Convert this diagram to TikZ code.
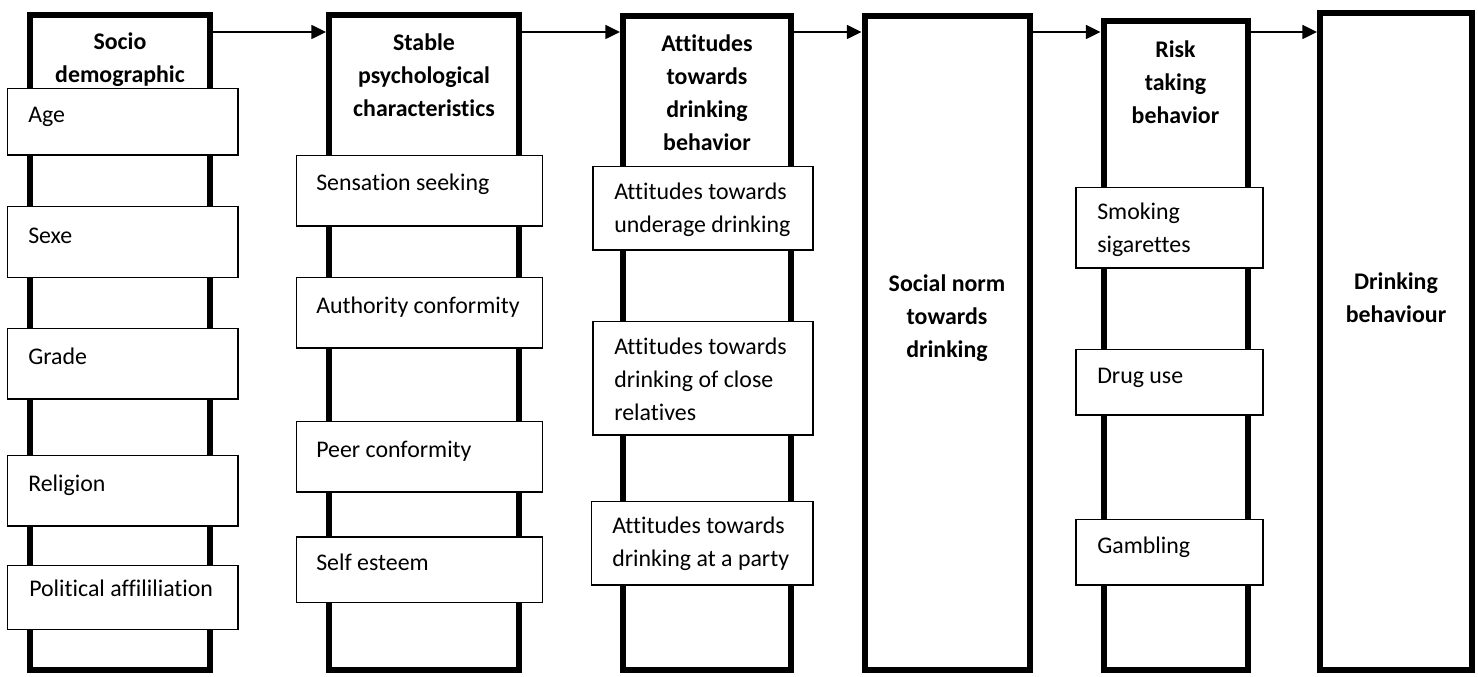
\documentclass[tikz,border=0pt]{standalone}
\usepackage{fontspec}
\setmainfont{Carlito}[Ligatures=NoCommon]
\usetikzlibrary{arrows.meta,fit}
\begin{document}
\begin{tikzpicture}[x=0.75pt,y=-0.75pt,
  frame/.style={draw, line width=4.5pt, inner sep=0pt},
  subbox/.style={draw, fill=white, line width=1.1pt, inner sep=0pt},
  frametitle/.style={font=\bfseries\fontsize{17.9pt}{24.75pt}\selectfont, align=center, anchor=base, inner sep=0pt},
  itemtext/.style={font=\fontsize{17.9pt}{24.75pt}\selectfont, align=left, anchor=base west, inner sep=0pt},
  flow/.style={line width=1.1pt, -{Triangle[length=11pt,width=10.5pt]}}]
\useasboundingbox (0,0) rectangle (1478,677);
\fill[white] (0,0) rectangle (1478,677);

% frames
\node[frame, fit={(30,15) (210,670)}] (f1) {};
\node[frame, fit={(329,15.5) (519,670)}] (f2) {};
\node[frame, fit={(623,16.5) (791,670)}] (f3) {};
\node[frame, fit={(864.5,16) (1030,670)}] (f4) {};
\node[frame, fit={(1103.5,21) (1248,670)}] (f5) {};
\node[frame, fit={(1320,13) (1472,670)}] (f6) {};

% titles (anchored at the baseline of the last line)
\node[frametitle] (t1) at (120,83) {Socio\\demographic};
\node[frametitle] (t2) at (424,117) {Stable\\psychological\\characteristics};
\node[frametitle] (t3) at (707,151) {Attitudes\\towards\\drinking\\behavior};
\node[frametitle] (t4) at (947,358) {Social norm\\towards\\drinking};
\node[frametitle] (t5) at (1175.5,124) {Risk\\taking\\behavior};
\node[frametitle] (t6) at (1396,323) {Drinking\\behaviour};

% column 1
\node[subbox, fit={(7.5,88.5) (238,155)}] (b11) {};
\node[subbox, fit={(7.5,206.5) (238,277.5)}] (b12) {};
\node[subbox, fit={(7.5,328.5) (238,399)}] (b13) {};
\node[subbox, fit={(7.5,455.5) (238,526)}] (b14) {};
\node[subbox, fit={(7.5,565.5) (238,629.5)}] (b15) {};
\node[itemtext] (x11) at (28,123) {Age};
\node[itemtext] (x12) at (28,243.5) {Sexe};
\node[itemtext] (x13) at (28,364) {Grade};
\node[itemtext] (x14) at (28,491) {Religion};
\node[itemtext] (x15) at (29,596.5) {Political affililiation};

% column 2
\node[subbox, fit={(296.5,155.5) (542.5,226)}] (b21) {};
\node[subbox, fit={(296.5,277.5) (542.5,348)}] (b22) {};
\node[subbox, fit={(296.5,421.5) (542.5,492)}] (b23) {};
\node[subbox, fit={(296.5,537) (542.5,602.5)}] (b24) {};
\node[itemtext] (x21) at (316,191) {Sensation seeking};
\node[itemtext] (x22) at (316,314) {Authority conformity};
\node[itemtext] (x23) at (316,457) {Peer conformity};
\node[itemtext] (x24) at (316,570.5) {Self esteem};

% column 3
\node[subbox, fit={(593,166.5) (813,250)}] (b31) {};
\node[subbox, fit={(593,321.5) (813,435)}] (b32) {};
\node[subbox, fit={(591.5,501.5) (813,585)}] (b33) {};
\node[itemtext] (x31) at (614,233) {Attitudes towards\\underage drinking};
\node[itemtext] (x32) at (614,420.5) {Attitudes towards\\drinking of close\\relatives};
\node[itemtext] (x33) at (612,566.5) {Attitudes towards\\drinking at a party};

% column 5
\node[subbox, fit={(1076,187.5) (1263,268)}] (b51) {};
\node[subbox, fit={(1076,349.5) (1263,415)}] (b52) {};
\node[subbox, fit={(1076,519.5) (1263,585)}] (b53) {};
\node[itemtext] (x51) at (1097,253) {Smoking\\sigarettes};
\node[itemtext] (x52) at (1097,383) {Drug use};
\node[itemtext] (x53) at (1097,553) {Gambling};

% arrows
\coordinate (row) at (0,32);
\draw[flow] (f1.east |- row) -- (f2.west |- row);
\draw[flow] (f2.east |- row) -- (f3.west |- row);
\draw[flow] (f3.east |- row) -- (f4.west |- row);
\draw[flow] (f4.east |- row) -- (f5.west |- row);
\draw[flow] (f5.east |- row) -- (f6.west |- row);
\end{tikzpicture}
\end{document}
